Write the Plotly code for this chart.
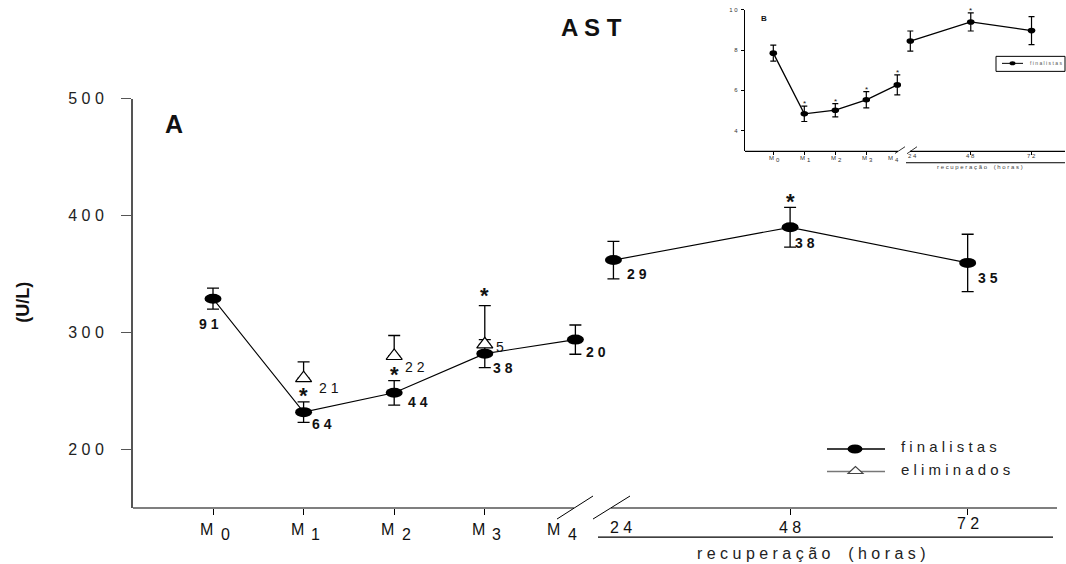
import plotly.graph_objects as go

# ---------------- data ----------------
x_labels = ["M0", "M1", "M2", "M3", "M4", "24", "48", "72"]
x_pos = [0, 1, 2, 3, 4, 4.42, 6.37, 8.33]      # category positions on the broken axis
tick_idx = [0, 1, 2, 3, 6, 7]
pre_idx = [0, 1, 2, 3, 4]                       # exercise phase (M0..M4)
post_idx = [5, 6, 7]                            # recovery phase (24, 48, 72 h)

fin_mean = [329, 232, 248.5, 282, 294, 362, 390, 359.6]
fin_sd = [9, 8.8, 10.5, 12, 12.5, 16, 17, 24.5]
fin_n = ["9 1", "6 4", "4 4", "3 8", "2 0", "2 9", "3 8", "3 5"]
fin_star = [0, 1, 1, 0, 0, 0, 1, 0]

elim_idx = [1, 2, 3]
elim_mean = [261, 280, 290]
elim_sd = [14, 17.5, 33]
elim_n = ["2 1", "2 2", "5"]
elim_star = [0, 0, 1]

inset_mean = [7.85, 4.83, 5.01, 5.53, 6.27, 8.45, 9.40, 8.97]
inset_sd = [0.40, 0.38, 0.33, 0.40, 0.50, 0.50, 0.45, 0.70]
inset_star = [0, 1, 1, 1, 1, 0, 1, 0]

y_ticks = [200, 300, 400, 500]
y_ticks_inset = [4, 6, 8, 10]

title_text = "AST"
ylabel_text = "(U/L)"
xlabel_text = "recuperação (horas)"
legend_names = ["finalistas", "eliminados"]

# ---------------- styling ----------------
W, H = 1066, 564
FONT = "Liberation Sans, Arial, Helvetica, sans-serif"
fin_lab_shift = [(-4.5, 25), (18, 12), (24, 9), (18, 14), (21, 12), (24, 14), (15, 16), (20, 15)]
elim_lab_shift = [(25.5, 9.5), (20.5, 11), (15.5, 2.5)]
KY, OY = 0.985, 7.5   # vertical calibration of the layout grid


def spaced(s):
    return " ".join(list(s))


def YP(y):
    return y / KY - OY


def P(x, y):
    return x / W, 1 - YP(y) / H


def line(x0, y0, x1, y1, color="black", width=1.2):
    a, b = P(x0, y0)
    c, d = P(x1, y1)
    return dict(type="line", xref="paper", yref="paper", x0=a, y0=b, x1=c, y1=d,
                line=dict(color=color, width=width), layer="above")


def text(x, y, s, size, bold=False, color="#111", xanchor="center", angle=0):
    a, b = P(x, y)
    return dict(xref="paper", yref="paper", x=a, y=b, text=("<b>%s</b>" % s) if bold else s,
                showarrow=False, xanchor=xanchor, yanchor="middle", textangle=angle,
                font=dict(family=FONT, size=size, color=color))


fig = go.Figure()

# main panel: finalistas (two segments, broken between M4 and 24 h)
for seg in (pre_idx, post_idx):
    fig.add_trace(go.Scatter(
        x=[x_pos[i] for i in seg], y=[fin_mean[i] for i in seg], mode="lines",
        line=dict(color="black", width=1.1),
        error_y=dict(type="data", array=[fin_sd[i] for i in seg], color="black",
                     thickness=1.3, width=6),
        xaxis="x", yaxis="y", hoverinfo="skip"))

# main panel: eliminados
fig.add_trace(go.Scatter(
    x=[x_pos[i] for i in elim_idx], y=elim_mean, mode="markers",
    marker=dict(symbol="triangle-up", size=14, color="white", line=dict(color="black", width=1.2)),
    error_y=dict(type="data", symmetric=False, array=elim_sd, arrayminus=[0] * len(elim_sd),
                 color="black", thickness=1.3, width=6),
    xaxis="x", yaxis="y", hoverinfo="skip"))

# inset panel B
for seg in (pre_idx, post_idx):
    fig.add_trace(go.Scatter(
        x=[x_pos[i] for i in seg], y=[inset_mean[i] for i in seg], mode="lines",
        line=dict(color="black", width=1.3),
        error_y=dict(type="data", array=[inset_sd[i] for i in seg], color="black",
                     thickness=1.2, width=3),
        xaxis="x2", yaxis="y2", hoverinfo="skip"))

shapes = []
ann = []

# ellipse markers
for i, x in enumerate(x_pos):
    shapes.append(dict(type="circle", xref="x", yref="y", xsizemode="pixel", ysizemode="pixel",
                       xanchor=x, yanchor=fin_mean[i], x0=-8.5, x1=8.5, y0=-5, y1=5,
                       fillcolor="black", line=dict(width=0), layer="above"))
    shapes.append(dict(type="circle", xref="x2", yref="y2", xsizemode="pixel", ysizemode="pixel",
                       xanchor=x, yanchor=inset_mean[i], x0=-3.8, x1=3.8, y0=-2.8, y1=2.8,
                       fillcolor="black", line=dict(width=0), layer="above"))

# n labels
for i, x in enumerate(x_pos):
    dx, dy = fin_lab_shift[i]
    ann.append(dict(xref="x", yref="y", x=x, y=fin_mean[i], xshift=dx, yshift=-dy,
                    text="<b>%s</b>" % fin_n[i], showarrow=False,
                    font=dict(family=FONT, size=14, color="#111")))
for k, i in enumerate(elim_idx):
    dx, dy = elim_lab_shift[k]
    ann.append(dict(xref="x", yref="y", x=x_pos[i], y=elim_mean[k], xshift=dx, yshift=-dy,
                    text=elim_n[k], showarrow=False,
                    font=dict(family=FONT, size=14, color="#111")))

# significance stars
SF = 22
for i, s in enumerate(fin_star):
    if s:
        ann.append(dict(xref="x", yref="y", x=x_pos[i], y=fin_mean[i] + fin_sd[i],
                        yshift=11 - 0.22 * SF, text="<b>*</b>", showarrow=False,
                        font=dict(family=FONT, size=SF, color="#111")))
for k, s in enumerate(elim_star):
    if s:
        ann.append(dict(xref="x", yref="y", x=x_pos[elim_idx[k]], y=elim_mean[k] + elim_sd[k],
                        yshift=15 - 0.22 * SF, text="<b>*</b>", showarrow=False,
                        font=dict(family=FONT, size=SF, color="#111")))
for i, s in enumerate(inset_star):
    if s:
        ann.append(dict(xref="x2", yref="y2", x=x_pos[i], y=inset_mean[i] + inset_sd[i],
                        yshift=4 - 0.22 * 8, text="*", showarrow=False,
                        font=dict(family=FONT, size=8, color="#111")))

# x-axis labels
for i in range(8):
    lab = x_labels[i]
    if lab.startswith("M"):
        sh = -15 if i == 4 else 0
        ann.append(dict(xref="x", yref="paper", x=x_pos[i], y=P(0, 528)[1], xshift=-6.5 + sh,
                        text="M", showarrow=False, yanchor="middle",
                        font=dict(family=FONT, size=16, color="#111")))
        ann.append(dict(xref="x", yref="paper", x=x_pos[i], y=P(0, 533)[1], xshift=12 + sh,
                        text=lab[1:], showarrow=False, yanchor="middle",
                        font=dict(family=FONT, size=16, color="#111")))
        shi = -5 if i == 4 else 0
        ann.append(dict(xref="x2", yref="paper", x=x_pos[i], y=P(0, 157)[1], xshift=-2 + shi,
                        text="M", showarrow=False, yanchor="middle",
                        font=dict(family=FONT, size=6, color="#333")))
        ann.append(dict(xref="x2", yref="paper", x=x_pos[i], y=P(0, 159)[1], xshift=5 + shi,
                        text=lab[1:], showarrow=False, yanchor="middle",
                        font=dict(family=FONT, size=6, color="#333")))
    else:
        xs = 8 if lab == "24" else 0
        yy = 522 if lab == "72" else 526
        ann.append(dict(xref="x", yref="paper", x=x_pos[i], y=P(0, yy)[1], xshift=xs,
                        text=spaced(lab), showarrow=False, yanchor="middle",
                        font=dict(family=FONT, size=16, color="#111")))
        ann.append(dict(xref="x2", yref="paper", x=x_pos[i], y=P(0, 155)[1], xshift=2 if lab == "24" else 0,
                        text=spaced(lab), showarrow=False, yanchor="middle",
                        font=dict(family=FONT, size=6, color="#333")))

# axis lines with break, secondary line for recovery
AX = "#555555"
shapes += [
    line(133, 507, 574, 507, AX, 1.6), line(611, 507, 1057, 507, AX, 1.6),
    line(557, 518, 593, 495, "black", 1), line(593, 518, 630, 495, "black", 1),
    line(598, 536, 1053, 536, "black", 1.2),
    line(745, 150.7, 898, 150.7, "black", 1.2), line(910, 150.7, 1065, 150.7, "black", 1.2),
    line(895, 152.7, 905, 146, "black", 0.8), line(907, 153, 917, 146, "black", 0.8),
    line(906, 162, 1065, 162, "black", 1),
]

# manual legend (main)
shapes.append(line(827, 448, 885, 448, "black", 1.3))
a, b = P(847.5, 443.5)
c, d = P(862.5, 452.5)
shapes.append(dict(type="circle", xref="paper", yref="paper", x0=a, y0=d, x1=c, y1=b,
                   fillcolor="black", line=dict(width=0), layer="above"))
shapes.append(line(827, 470.5, 885, 470.5, "#777777", 1.3))
t1 = P(855.5, 465.5)
t2 = P(848, 472.5)
t3 = P(863, 472.5)
shapes.append(dict(type="path", xref="paper", yref="paper",
                   path="M %f,%f L %f,%f L %f,%f Z" % (t1[0], t1[1], t2[0], t2[1], t3[0], t3[1]),
                   fillcolor="white", line=dict(color="#444", width=1.1), layer="above"))
ann.append(text(899, 446, spaced(legend_names[0]), 15, xanchor="left", color="#222"))
ann.append(text(899, 469, spaced(legend_names[1]), 15, xanchor="left", color="#222"))

# inset legend box
a, b = P(996, 55.7)
c, d = P(1065, 70.7)
shapes.append(dict(type="rect", xref="paper", yref="paper", x0=a, y0=d, x1=c, y1=b,
                   line=dict(color="black", width=1), fillcolor="white", layer="above"))
shapes.append(line(1002, 62.7, 1023, 62.7, "black", 1))
a, b = P(1009.5, 60.7)
c, d = P(1015.5, 64.7)
shapes.append(dict(type="circle", xref="paper", yref="paper", x0=a, y0=d, x1=c, y1=b,
                   fillcolor="black", line=dict(width=0), layer="above"))
ann.append(text(1028, 62.7, spaced(legend_names[0]), 5, xanchor="left", color="#555"))

# titles and labels
ann.append(text(591, 27, spaced(title_text), 24, bold=True))
ann.append(text(174, 123, "A", 25, bold=True))
ann.append(text(23, 302, ylabel_text, 18, bold=True, angle=-90))
ann.append(text(811, 552, spaced(xlabel_text).replace("(", " ("), 16, color="#222"))
ann.append(text(764, 18, "B", 8, bold=True))
ann.append(text(980, 166, spaced(xlabel_text).replace("(", " ("), 6, color="#444"))

main_dom_x = [133 / W, 1057 / W]
main_dom_y = [1 - YP(507) / H, 1 - YP(98) / H]
ins_dom_x = [745 / W, 1065 / W]
ins_dom_y = [1 - YP(150.7) / H, 1 - YP(9.3) / H]

fig.update_layout(
    width=W, height=H, margin=dict(l=0, r=0, t=0, b=0),
    paper_bgcolor="white", plot_bgcolor="white", showlegend=False,
    xaxis=dict(domain=main_dom_x, range=[-0.883, 9.316], showline=False, showgrid=False,
               zeroline=False, tickmode="array", tickvals=[x_pos[i] for i in tick_idx],
               ticktext=[""] * len(tick_idx), ticks="outside", ticklen=6, tickcolor="black",
               tickwidth=1.2, anchor="y"),
    yaxis=dict(domain=main_dom_y, range=[150, 500], showline=True, linecolor=AX, linewidth=2,
               showgrid=False, zeroline=False, tickmode="array", tickvals=y_ticks,
               ticktext=[spaced(str(v)) for v in y_ticks], ticks="outside", ticklen=10,
               tickcolor=AX, tickwidth=1.2, ticklabelstandoff=14,
               tickfont=dict(family=FONT, size=16, color="#222"), anchor="x"),
    xaxis2=dict(domain=ins_dom_x, range=[-0.913, 9.41], showline=False, showgrid=False,
                zeroline=False, tickmode="array", tickvals=[x_pos[i] for i in tick_idx],
                ticktext=[""] * len(tick_idx), ticks="outside", ticklen=3, tickcolor="black",
                tickwidth=1, anchor="y2"),
    yaxis2=dict(domain=ins_dom_y, range=[2.96, 10], showline=True, linecolor="black", linewidth=1.2,
                showgrid=False, zeroline=False, tickmode="array", tickvals=y_ticks_inset,
                ticktext=[spaced(str(v)) for v in y_ticks_inset], ticks="outside", ticklen=3,
                tickcolor="black", tickwidth=1, ticklabelstandoff=2,
                tickfont=dict(family=FONT, size=6, color="#333"), anchor="x2"),
    shapes=shapes, annotations=ann,
)

post = ("document.documentElement.style.margin='0';document.body.style.margin='0';"
        "document.body.style.overflow='hidden';"
        "var g=document.getElementsByClassName('plotly-graph-div')[0];"
        "g.style.position='fixed';g.style.top='0px';g.style.left='0px';")
fig.write_html("out.html", config={"displayModeBar": False}, post_script=post)
